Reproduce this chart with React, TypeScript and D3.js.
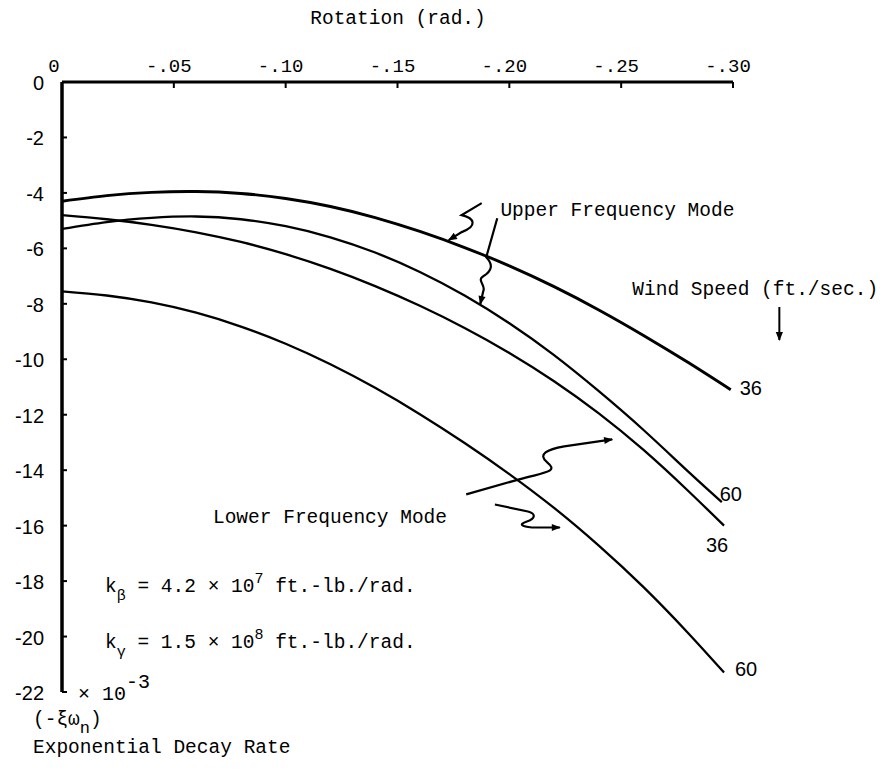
import React, { useEffect } from "react";
import * as d3 from "d3";

// ---- axis ticks ----
const rotationTicks = [0, -0.05, -0.1, -0.15, -0.2, -0.25, -0.3];
const rotationTickLabels = ["0", "-.05", "-.10", "-.15", "-.20", "-.25", "-.30"];
const decayTicks = [0, -2, -4, -6, -8, -10, -12, -14, -16, -18, -20, -22];

// ---- series (x = rotation, rad; y = decay rate x 10^-3) ----
const rotation = [0, -0.02, -0.04, -0.06, -0.08, -0.1, -0.12, -0.14, -0.16, -0.18, -0.2, -0.22, -0.24, -0.26, -0.28];
const upper36 = [-4.3, -4.1, -3.98, -3.95, -4.02, -4.2, -4.49, -4.89, -5.39, -5.97, -6.63, -7.38, -8.22, -9.14, -10.12];
const upper36End = [-0.299, -11.1];
const upper60 = [-5.3, -5.05, -4.9, -4.85, -4.95, -5.2, -5.6, -6.15, -6.85, -7.7, -8.7, -9.85, -11.15, -12.55, -14.05];
const upper60End = [-0.295, -15.15];
const lower36 = [-4.8, -4.95, -5.15, -5.42, -5.77, -6.21, -6.74, -7.36, -8.07, -8.87, -9.77, -10.79, -11.95, -13.27, -14.75];
const lower36End = [-0.296, -16.0];
const lower60 = [-7.55, -7.7, -7.95, -8.32, -8.82, -9.44, -10.18, -11.03, -11.98, -13.02, -14.14, -15.36, -16.72, -18.22, -19.88];
const lower60End = [-0.296, -21.3];

const seriesNames = ["36", "60", "36", "60"];

const W = 884;
const H = 773;
const MONO = "'Liberation Mono', 'DejaVu Sans Mono', monospace";
const SANS = "'Liberation Sans', Arial, sans-serif";

export default function App() {
  useEffect(() => {
    document.body.style.margin = "0";
  }, []);

  const x = d3.scaleLinear().domain([0, -0.3]).range([62, 733]);
  const y = d3.scaleLinear().domain([0, -22]).range([82, 692]);

  const series = [
    { vals: upper36, end: upper36End, name: seriesNames[0], dx: 20, dy: -2, w: 2.9 },
    { vals: upper60, end: upper60End, name: seriesNames[1], dx: 9, dy: -8, w: 2.3 },
    { vals: lower36, end: lower36End, name: seriesNames[2], dx: -7, dy: 19, w: 2.3 },
    { vals: lower60, end: lower60End, name: seriesNames[3], dx: 22, dy: -4, w: 2.3 },
  ].map((s) => {
    const pts: [number, number][] = rotation.map((r, i) => [r, s.vals[i]] as [number, number]);
    pts.push([s.end[0], s.end[1]]);
    return { ...s, pts };
  });

  const line = d3
    .line<[number, number]>()
    .x((d) => x(d[0]))
    .y((d) => y(d[1]))
    .curve(d3.curveNatural);

  const onCurve = (k: number, r: number) => {
    const s = series[k];
    const f = d3.scaleLinear().domain(s.pts.map((p) => p[0])).range(s.pts.map((p) => p[1]));
    return [x(r), y(f(r))];
  };

  const a1 = onCurve(0, -0.172);
  const a2 = onCurve(1, -0.187);
  const a3 = onCurve(2, -0.246);
  const a4 = onCurve(3, -0.2235);

  const upperTextX = x(-0.196);
  const upperTextY = y(-4.57) + 7;
  const windX = x(-0.255);
  const windY = y(-7.43) + 7;
  const lowerTextX = x(-0.0675);
  const lowerTextY = y(-15.64) + 7;
  const kbY = y(-18) + 11;
  const kgY = y(-20) + 11;
  const bottomY = y(-22);

  return (
    <svg
      width={W}
      height={H}
      viewBox={`0 0 ${W} ${H}`}
      style={{ display: "block", background: "#fff" }}
    >
      <defs>
        <marker
          id="ah"
          viewBox="0 0 10 10"
          refX="9"
          refY="5"
          markerWidth="11"
          markerHeight="9"
          markerUnits="userSpaceOnUse"
          orient="auto"
        >
          <path d="M0,1 L10,5 L0,9 z" fill="#000" />
        </marker>
      </defs>

      {/* title */}
      <text x={398} y={24} fontFamily={MONO} fontSize={19.5} textAnchor="middle" fill="#000">
        Rotation (rad.)
      </text>

      {/* top axis */}
      <line x1={x(0)} x2={x(-0.3)} y1={y(0)} y2={y(0)} stroke="#000" strokeWidth={3} />
      {rotationTicks.map((t, i) => (
        <g key={"xt" + i}>
          <line x1={x(t)} x2={x(t)} y1={y(0)} y2={y(0) + 6} stroke="#000" strokeWidth={2} />
          <text
            x={x(t) - (i === 0 ? 8 : 5)}
            y={y(0) - 10}
            fontFamily={MONO}
            fontSize={19}
            textAnchor="middle"
            fill="#000"
          >
            {rotationTickLabels[i]}
          </text>
        </g>
      ))}

      {/* left axis */}
      <line x1={x(0)} x2={x(0)} y1={y(0)} y2={y(-22)} stroke="#000" strokeWidth={3.5} />
      {decayTicks.map((t) => (
        <g key={"yt" + t}>
          <line x1={x(0)} x2={x(0) + 5} y1={y(t)} y2={y(t)} stroke="#000" strokeWidth={2} />
          <text
            x={44}
            y={y(t) + 8}
            fontFamily={SANS}
            fontSize={20}
            textAnchor="end"
            fill="#000"
          >
            {t === 0 ? "0" : "-" + Math.abs(t)}
          </text>
        </g>
      ))}

      {/* curves */}
      {series.map((s, i) => (
        <g key={"s" + i}>
          <path d={line(s.pts) || ""} fill="none" stroke="#000" strokeWidth={s.w} />
          <text
            x={x(s.end[0]) + s.dx}
            y={y(s.end[1]) + s.dy + 7}
            fontFamily={SANS}
            fontSize={20}
            textAnchor="middle"
            fill="#000"
          >
            {s.name}
          </text>
        </g>
      ))}

      {/* annotations */}
      <text x={upperTextX} y={upperTextY} fontFamily={MONO} fontSize={19.5} fill="#000">
        Upper Frequency Mode
      </text>
      <path
        transform={`translate(${a1[0]},${a1[1]})`}
        d="M35,-38 L15,-26 C28,-23 31,-15 15,-9 L2,-1"
        fill="none"
        stroke="#000"
        strokeWidth={2.2}
        markerEnd="url(#ah)"
      />
      <path
        transform={`translate(${a2[0]},${a2[1]})`}
        d="M17,-87 L6,-48 C13,-41 12,-34 3,-29 C-4,-25 6,-20 3,-14 L0,-1"
        fill="none"
        stroke="#000"
        strokeWidth={2.2}
        markerEnd="url(#ah)"
      />

      <text x={windX} y={windY} fontFamily={MONO} fontSize={19.5} fill="#000">
        Wind Speed (ft./sec.)
      </text>
      <line
        x1={windX + 147}
        x2={windX + 147}
        y1={windY + 12}
        y2={windY + 45}
        stroke="#000"
        strokeWidth={2}
        markerEnd="url(#ah)"
      />

      <text x={lowerTextX} y={lowerTextY} fontFamily={MONO} fontSize={19.5} fill="#000">
        Lower Frequency Mode
      </text>
      <path
        transform={`translate(${a3[0]},${a3[1] + 15})`}
        d="M-146,55 L-93,40 C-68,33 -53,33 -65,23 C-75,15 -65,10 -48,7 L0,0"
        fill="none"
        stroke="#000"
        strokeWidth={2.2}
        markerEnd="url(#ah)"
      />
      <path
        transform={`translate(${a4[0] - 2},${a4[1] + 13})`}
        d="M-65,-23 L-32,-16 C-24,-14 -24,-9 -33,-6 C-42,-3 -38,-1 -28,0 L0,0"
        fill="none"
        stroke="#000"
        strokeWidth={2.2}
        markerEnd="url(#ah)"
      />

      {/* stiffness notes */}
      <text x={105} y={kbY} fontFamily={MONO} fontSize={19.5} fill="#000">
        k<tspan fontSize={15} dy={8}>β</tspan>
        <tspan dy={-8}> = 4.2 × 10</tspan>
        <tspan fontSize={15} dy={-9}>7</tspan>
        <tspan dy={9}> ft.-lb./rad.</tspan>
      </text>
      <text x={105} y={kgY} fontFamily={MONO} fontSize={19.5} fill="#000">
        k<tspan fontSize={15} dy={8}>γ</tspan>
        <tspan dy={-8}> = 1.5 × 10</tspan>
        <tspan fontSize={15} dy={-9}>8</tspan>
        <tspan dy={9}> ft.-lb./rad.</tspan>
      </text>

      {/* y-axis multiplier & label */}
      <text x={78} y={bottomY + 8} fontFamily={MONO} fontSize={20} fill="#000">
        × 10<tspan fontSize={20} dy={-12}>-3</tspan>
      </text>
      <text x={33} y={bottomY + 33} fontFamily={MONO} fontSize={19.5} fill="#000">
        (-ξω<tspan fontSize={17} dy={8}>n</tspan>
        <tspan dy={-8}>)</tspan>
      </text>
      <text x={33} y={bottomY + 61} fontFamily={MONO} fontSize={19.5} fill="#000">
        Exponential Decay Rate
      </text>
    </svg>
  );
}
